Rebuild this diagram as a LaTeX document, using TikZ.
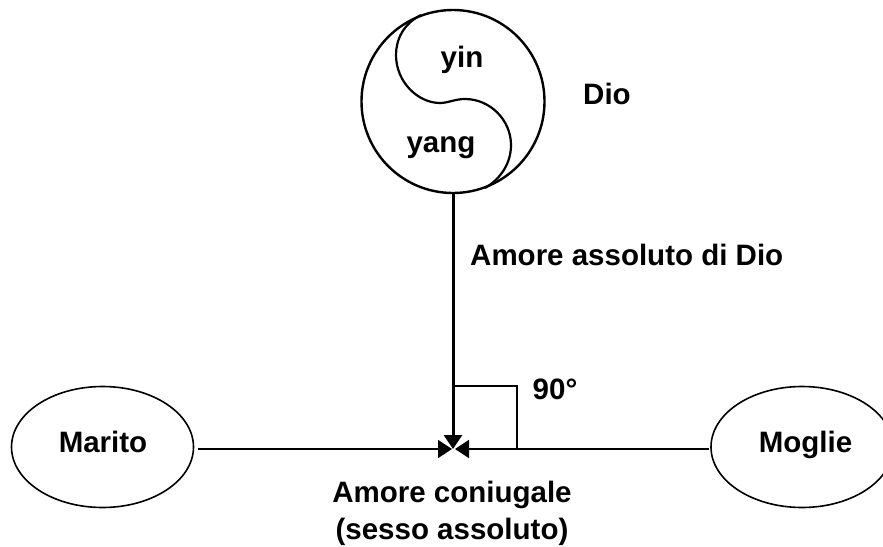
\documentclass[tikz,border=0pt]{standalone}
\usepackage{fontspec}
\setmainfont{Liberation Sans}
\usetikzlibrary{arrows.meta,shapes.geometric}
\tikzset{
  lbl/.style={font=\bfseries\fontsize{29.5}{37}\selectfont,inner sep=0pt,align=center},
  person/.style={draw,line width=1.6pt,ellipse,minimum width=182pt,minimum height=121pt,inner sep=0pt},
  thin line/.style={line width=1.6pt},
  thick line/.style={line width=3pt},
  tip/.style={-{Triangle[length=14pt,width=18pt]}}
}
\begin{document}
\begin{tikzpicture}[x=1pt,y=-1pt]
\useasboundingbox (0,0) rectangle (883,546);
\clip (0,0) rectangle (883,546);
\node[draw,circle,line width=2.4pt,minimum size=183pt,inner sep=0pt] (dio) at (453,101.5) {};
\draw[line width=2.2pt] (421,15) .. controls (403,24) and (396,40) .. (396,55)
  .. controls (396,82) and (418,103) .. (440,103)
  .. controls (448,103) and (455,99) .. (465,99)
  .. controls (490,99) and (511,120) .. (511,145)
  .. controls (511,162) and (502,178) .. (485,188);
\node[lbl,anchor=base] (yin) at (462,67) {yin};
\node[lbl,anchor=base] (yang) at (441,152) {yang};
\node[lbl] (diol) at (607,94) {Dio};
\node[lbl,anchor=west] (amore) at (470,255) {Amore assoluto di Dio};
\node[person] (marito) at (102.5,447) {};
\node[lbl,anchor=base] at (103,452) {Marito};
\node[person] (moglie) at (802,447) {};
\node[lbl,anchor=base] at (805.5,452) {Moglie};
\coordinate (c) at (453,449);
\coordinate (cl) at (452,449);
\coordinate (cr) at (455,449);
\coordinate (ml) at (198,449);
\coordinate (mr) at (709,449);
\coordinate (sq1) at (453,386);
\coordinate (sq2) at (517,386);
\coordinate (sq3) at (517,449);
\draw[thick line,tip] (dio.south) -- (c);
\draw[thin line,tip] (ml) -- (cl);
\draw[thin line,tip] (mr) -- (cr);
\draw[thin line] (sq1) -- (sq2) -- (sq3);
\node[lbl] (deg) at (555,389) {90°};
\node[lbl] (con) at (452,513) {Amore coniugale\\(sesso assoluto)};
\end{tikzpicture}
\end{document}
